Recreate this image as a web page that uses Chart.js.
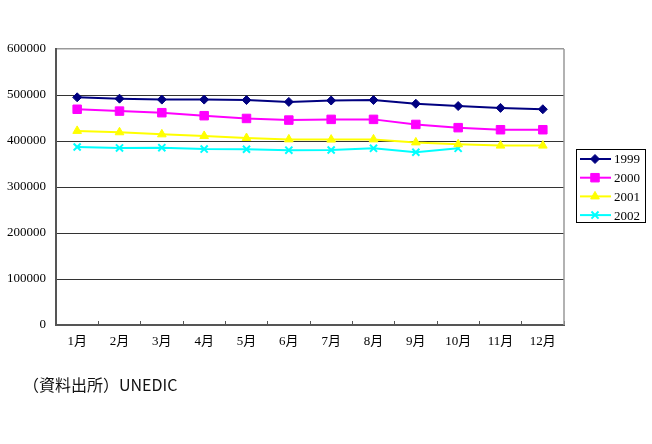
<!DOCTYPE html>
<html>
<head>
<meta charset="utf-8">
<script src="https://cdn.jsdelivr.net/npm/chart.js@4/dist/chart.umd.min.js"></script>
<style>
  body { margin: 0; background: #fff; }
  #wrap { position: relative; width: 652px; height: 444px; }
  #note {
    position: absolute; left: 23px; top: 372px;
    font-family: "Noto Sans CJK JP", sans-serif; font-size: 16px; color: #111;
  }
</style>
</head>
<body>
<div id="wrap">
  <canvas id="myChart" width="652" height="444"></canvas>
  <div id="note">（資料出所）UNEDIC</div>
</div>
<script>
// monthly data
var months = ['1月', '2月', '3月', '4月', '5月', '6月', '7月', '8月', '9月', '10月', '11月', '12月'];
var years = ['1999', '2000', '2001', '2002'];
var v1999 = [495000, 492000, 490000, 490000, 489000, 485000, 488000, 489000, 481000, 476000, 472000, 469000];
var v2000 = [469000, 465000, 461500, 455000, 449000, 445500, 447000, 447000, 436000, 429000, 424500, 424500];
var v2001 = [422000, 419000, 414500, 411000, 406500, 403500, 403000, 403500, 397000, 393000, 390000, 390000];
var v2002 = [387000, 385000, 385500, 382500, 382000, 380000, 380500, 384000, 375500, 384000, null, null];
var yTicks = [0, 100000, 200000, 300000, 400000, 500000, 600000];

var tickFont = { family: '"Liberation Serif", "Noto Sans CJK JP", serif', size: 13 };

function series(label, data, colour, style, radius) {
    return {
        label: label,
        data: data,
        borderColor: colour,
        backgroundColor: colour,
        borderWidth: 2,
        pointStyle: style,
        pointRadius: radius,
        pointBorderWidth: style == 'crossRot' ? 2 : 1,
        spanGaps: false,
        tension: 0
    };
}

// boxed legend at the right, like the original
var boxLegend = {
    id: 'boxLegend',
    afterDraw: function(chart) {
        var ctx = chart.ctx;
        ctx.save();
        ctx.strokeStyle = '#000';
        ctx.lineWidth = 1;
        ctx.strokeRect(576.5, 149.5, 69, 73);
        chart.data.datasets.forEach(function(ds, i) {
            var y = 159 + i * 18.7;
            ctx.strokeStyle = ds.borderColor;
            ctx.lineWidth = 2;
            ctx.beginPath();
            ctx.moveTo(580, y);
            ctx.lineTo(611, y);
            ctx.stroke();
            ctx.fillStyle = ds.backgroundColor;
            ctx.lineWidth = ds.pointBorderWidth;
            Chart.helpers.drawPoint(ctx, { pointStyle: ds.pointStyle, radius: ds.pointRadius, borderWidth: ds.pointBorderWidth, rotation: 0 }, 595, y);
            ctx.fillStyle = '#000';
            ctx.font = '13px "Liberation Serif", serif';
            ctx.textBaseline = 'middle';
            ctx.textAlign = 'left';
            ctx.fillText(ds.label, 614, y + 1);
        });
        ctx.restore();
    },
    beforeDatasetsDraw: function(chart) {
        // right edge of the plot frame
        var a = chart.chartArea;
        var ctx = chart.ctx;
        ctx.save();
        ctx.strokeStyle = '#999';
        ctx.lineWidth = 1.5;
        ctx.beginPath();
        ctx.moveTo(a.right, a.top);
        ctx.lineTo(a.right, a.bottom);
        ctx.stroke();
        ctx.restore();
    }
};

var config = {
    type: 'line',
    data: {
        labels: months,
        datasets: [
            series(years[0], v1999, '#000080', 'rectRot', 4.5),
            series(years[1], v2000, '#FF00FF', 'rect', 6),
            series(years[2], v2001, '#FFFF00', 'triangle', 5),
            series(years[3], v2002, '#00FFFF', 'crossRot', 5)
        ]
    },
    options: {
        responsive: false,
        animation: false,
        layout: { padding: { left: 0, right: 88, top: 49, bottom: 0 } },
        plugins: {
            legend: { display: false },
            tooltip: { enabled: false }
        },
        scales: {
            x: {
                type: 'category',
                offset: true,
                grid: { offset: true, drawOnChartArea: false, tickLength: -4, color: '#555', lineWidth: 1 },
                border: { color: '#555', width: 2 },
                ticks: { padding: 13, font: tickFont, color: '#000', autoSkip: false, maxRotation: 0 },
                afterFit: function(s) { s.height = 119; }
            },
            y: {
                min: yTicks[0],
                max: yTicks[yTicks.length - 1],
                afterBuildTicks: function(s) {
                    s.ticks = yTicks.map(function(v) { return { value: v }; });
                },
                grid: {
                    drawTicks: false,
                    color: function(c) { return c.tick && c.tick.value == 600000 ? '#999' : '#333'; },
                    lineWidth: function(c) { return c.tick && c.tick.value == 600000 ? 1.5 : 1; }
                },
                border: { color: '#555', width: 2 },
                ticks: {
                    padding: 10, font: tickFont, color: '#000',
                    callback: function(v) { return String(v); }
                },
                afterFit: function(s) { s.width = 56; }
            }
        }
    },
    plugins: [boxLegend]
};

window.onload = function() {
    var ctx = document.getElementById('myChart').getContext('2d');
    window.myLine = new Chart(ctx, config);
};
</script>
</body>
</html>
